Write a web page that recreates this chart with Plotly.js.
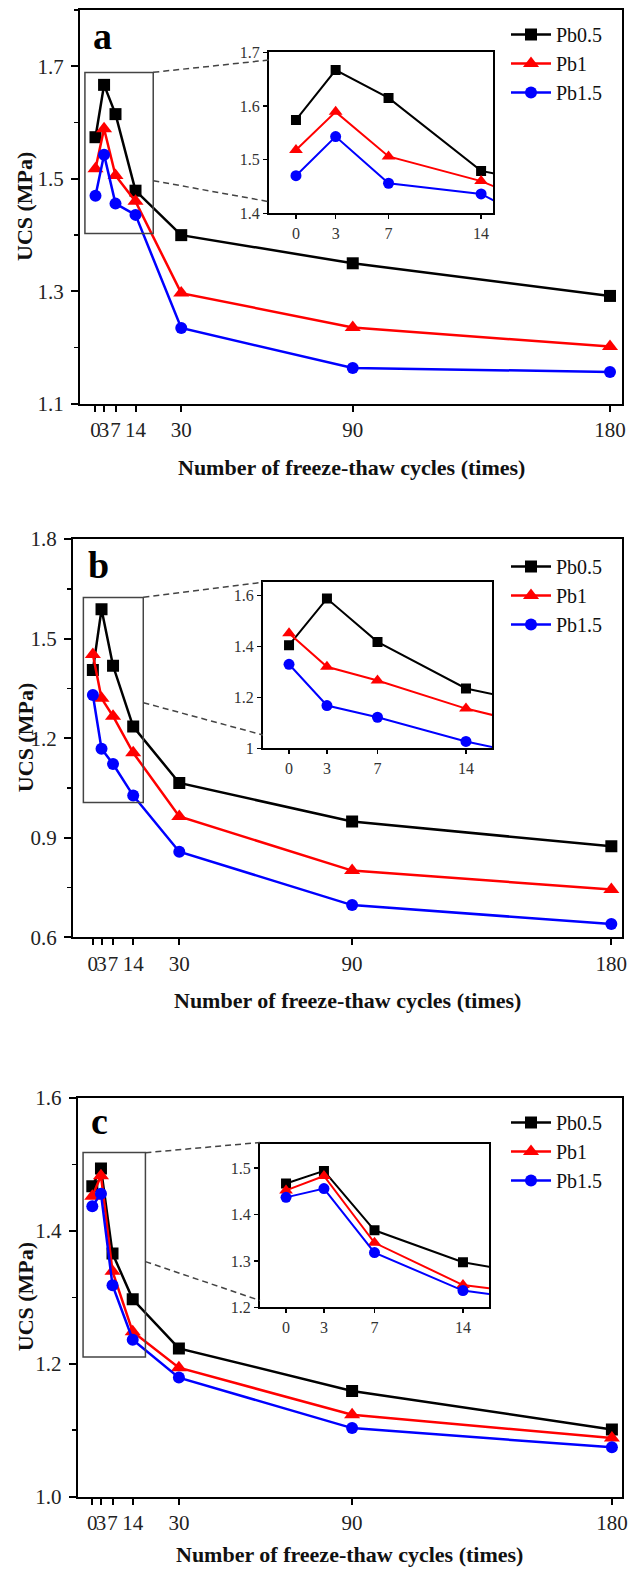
<!DOCTYPE html>
<html><head><meta charset="utf-8">
<script src="https://cdn.plot.ly/plotly-3.0.1.min.js"></script>
<style>html,body{margin:0;padding:0;background:#fff}</style>
</head><body><div id="chart" style="width:629px;height:1570px"></div>
<script>
// ---- data ----
const cycles = [0, 3, 7, 14, 30, 90, 180];
const cycleLabels = ['0', '3', '7', '14', '30', '90', '180'];
const seriesNames = ['Pb0.5', 'Pb1', 'Pb1.5'];
const panelLabels = ['a', 'b', 'c'];

const ucsA_Pb05 = [1.574, 1.667, 1.615, 1.479, 1.400, 1.350, 1.292];
const ucsA_Pb1  = [1.518, 1.589, 1.506, 1.460, 1.297, 1.236, 1.202];
const ucsA_Pb15 = [1.470, 1.543, 1.456, 1.436, 1.235, 1.164, 1.157];

const ucsB_Pb05 = [1.405, 1.588, 1.418, 1.235, 1.065, 0.949, 0.874];
const ucsB_Pb1  = [1.452, 1.320, 1.266, 1.156, 0.964, 0.801, 0.744];
const ucsB_Pb15 = [1.330, 1.168, 1.122, 1.027, 0.858, 0.697, 0.640];

const ucsC_Pb05 = [1.467, 1.494, 1.366, 1.297, 1.223, 1.159, 1.101];
const ucsC_Pb1  = [1.452, 1.483, 1.339, 1.248, 1.194, 1.123, 1.088];
const ucsC_Pb15 = [1.437, 1.456, 1.318, 1.236, 1.179, 1.103, 1.074];

const insetTicksA = [1.4, 1.5, 1.6, 1.7];
const insetTicksB = [1.0, 1.2, 1.4, 1.6];
const insetTicksC = [1.2, 1.3, 1.4, 1.5];
const insetXTicks = [0, 3, 7, 14];

// ---- styling / layout ----
const W = 629, H = 1570;
const px = x => x / W, py = y => 1 - y / H;
const colors = ['#000000', '#ff0000', '#0000ff'];
const symbols = ['square', 'triangle-up', 'circle'];
const mainSizes = [12, 14, 12];
const insetSizes = [10, 12, 11];
const serif = 'Liberation Serif';

const panels = [
  { data: [ucsA_Pb05, ucsA_Pb1, ucsA_Pb15],
    main: { x: [80, 622], y: [10, 404], xr: [-5.42, 184.2], yr: [1.1, 1.8], tick0: 1.1, dtick: 0.2, minor: 0.1, fmt: '.1f' },
    inset: { x: [269, 493], y: [52.3, 213.3], xr: [-2.04, 14.9], yr: [1.4, 1.7], ticks: insetTicksA, labels: ['1.4','1.5','1.6','1.7'] },
    rect: [-3.7, 20.2, 1.403, 1.689],
    dash: [[153.3, 72.3, 269, 60], [153.3, 180.7, 269, 201.7]],
    label: [102, 59], legendTop: 15, titleY: 467 },
  { data: [ucsB_Pb05, ucsB_Pb1, ucsB_Pb15],
    main: { x: [73, 622], y: [539, 937.3], xr: [-6.9, 183.7], yr: [0.6, 1.8], tick0: 0.6, dtick: 0.3, minor: 0.15, fmt: '.1f' },
    inset: { x: [263, 492], y: [582.3, 748.3], xr: [-2.06, 16.06], yr: [1.0, 1.652], ticks: insetTicksB, labels: ['1','1.2','1.4','1.6'] },
    rect: [-3.3, 17.5, 1.006, 1.624],
    dash: [[143.4, 597.3, 263, 582.3], [143.4, 702.7, 263, 735]],
    label: [98, 588], legendTop: 547, titleY: 1000 },
  { data: [ucsC_Pb05, ucsC_Pb1, ucsC_Pb15],
    main: { x: [77.7, 622], y: [1098, 1496.5], xr: [-5.06, 183.5], yr: [1.0, 1.6], tick0: 1.0, dtick: 0.2, minor: 0.1, fmt: '.1f' },
    inset: { x: [260, 489], y: [1144, 1307.3], xr: [-2.06, 16.06], yr: [1.2, 1.552], ticks: insetTicksC, labels: ['1.2','1.3','1.4','1.5'] },
    rect: [-3.2, 18.4, 1.21, 1.518],
    dash: [[145.4, 1152.7, 260, 1142.5], [145.4, 1261.6, 260, 1300.5]],
    label: [99, 1144], legendTop: 1103, titleY: 1554 }
];

const traces = [];
const layout = {
  width: W, height: H,
  margin: { l: 0, r: 0, t: 0, b: 0 },
  paper_bgcolor: '#fff', plot_bgcolor: '#fff',
  showlegend: true,
  font: { family: serif, color: '#222' },
  shapes: [], annotations: []
};

panels.forEach((p, i) => {
  const mi = 2 * i + 1, ii = 2 * i + 2;
  const mx = mi === 1 ? 'x' : 'x' + mi, my = mi === 1 ? 'y' : 'y' + mi;
  const ix = 'x' + ii, iy = 'y' + ii;
  const legName = i === 0 ? 'legend' : 'legend' + (i + 1);

  p.data.forEach((vals, s) => {
    traces.push({
      x: cycles, y: vals, xaxis: mx, yaxis: my, name: seriesNames[s],
      type: 'scatter', mode: 'lines+markers', legend: legName,
      line: { color: colors[s], width: 2.5 },
      marker: { symbol: symbols[s], size: mainSizes[s], color: colors[s] }
    });
  });
  p.data.forEach((vals, s) => {
    traces.push({
      x: cycles, y: vals, xaxis: ix, yaxis: iy, name: seriesNames[s],
      type: 'scatter', mode: 'lines+markers', showlegend: false,
      line: { color: colors[s], width: 2 },
      marker: { symbol: symbols[s], size: insetSizes[s], color: colors[s] }
    });
  });

  const m = p.main;
  layout['xaxis' + (mi === 1 ? '' : mi)] = {
    domain: [px(m.x[0]), px(m.x[1])], range: m.xr, anchor: my,
    showline: true, mirror: true, linewidth: 2, linecolor: '#000',
    ticks: 'outside', ticklen: 6, tickwidth: 2, tickcolor: '#000',
    tickmode: 'array', tickvals: cycles, ticktext: cycleLabels, tickangle: 0,
    showgrid: false, zeroline: false,
    tickfont: { family: serif, size: 21, color: '#222' }
  };
  layout['yaxis' + (mi === 1 ? '' : mi)] = {
    domain: [py(m.y[1]), py(m.y[0])], range: m.yr, anchor: mx,
    showline: true, mirror: true, linewidth: 2, linecolor: '#000',
    ticks: 'outside', ticklen: 7, tickwidth: 2, tickcolor: '#000',
    tick0: m.tick0, dtick: m.dtick, tickformat: m.fmt,
    minor: { ticks: 'outside', ticklen: 4, tickwidth: 1.5, tickcolor: '#000', tick0: m.tick0, dtick: m.minor, showgrid: false },
    showgrid: false, zeroline: false, ticklabelstandoff: 3,
    tickfont: { family: serif, size: 21, color: '#222' }
  };

  const n = p.inset;
  layout['xaxis' + ii] = {
    domain: [px(n.x[0]), px(n.x[1])], range: n.xr, anchor: iy,
    showline: true, mirror: true, linewidth: 2, linecolor: '#000',
    ticks: 'outside', ticklen: 4, tickwidth: 1.5, tickcolor: '#000',
    tickmode: 'array', tickvals: insetXTicks, ticktext: insetXTicks.map(String), tickangle: 0,
    showgrid: false, zeroline: false,
    tickfont: { family: serif, size: 16, color: '#333' }
  };
  layout['yaxis' + ii] = {
    domain: [py(n.y[1]), py(n.y[0])], range: n.yr, anchor: ix,
    showline: true, mirror: true, linewidth: 2, linecolor: '#000',
    ticks: 'outside', ticklen: 4, tickwidth: 1.5, tickcolor: '#000',
    tickmode: 'array', tickvals: n.ticks, ticktext: n.labels,
    showgrid: false, zeroline: false,
    tickfont: { family: serif, size: 16, color: '#333' }
  };

  // zoom rectangle on main plot
  layout.shapes.push({ type: 'rect', xref: mx, yref: my, x0: p.rect[0], x1: p.rect[1], y0: p.rect[2], y1: p.rect[3],
    line: { color: '#444', width: 1.5 }, fillcolor: 'rgba(0,0,0,0)' });
  p.dash.forEach(d => layout.shapes.push({ type: 'line', xref: 'paper', yref: 'paper',
    x0: px(d[0]), y0: py(d[1]), x1: px(d[2]), y1: py(d[3]),
    line: { color: '#444', width: 1.5, dash: '6px,4px' } }));

  // legend
  layout[legName] = {
    x: px(506), y: py(p.legendTop), xanchor: 'left', yanchor: 'top',
    bgcolor: 'rgba(0,0,0,0)', borderwidth: 0, itemwidth: 40,
    font: { family: serif, size: 20, color: '#111' }, tracegroupgap: 0
  };

  // panel letter
  layout.annotations.push({ text: '<b>' + panelLabels[i] + '</b>', xref: 'paper', yref: 'paper',
    x: px(p.label[0]), y: py(p.label[1]), xanchor: 'center', yanchor: 'bottom', showarrow: false,
    font: { family: serif, size: 38, color: '#000' } });
  // axis titles
  const cy = (m.y[0] + m.y[1]) / 2, cx = (m.x[0] + m.x[1]) / 2;
  layout.annotations.push({ text: '<b>UCS (MPa)</b>', xref: 'paper', yref: 'paper',
    x: px(25), y: py(cy), xanchor: 'center', yanchor: 'middle', textangle: -90, showarrow: false,
    font: { family: serif, size: 22, color: '#111' } });
  layout.annotations.push({ text: '<b>Number of freeze-thaw cycles (times)</b>', xref: 'paper', yref: 'paper',
    x: px(cx), y: py(p.titleY), xanchor: 'center', yanchor: 'middle', showarrow: false,
    font: { family: serif, size: 22, color: '#111' } });
});

Plotly.newPlot('chart', traces, layout, { displayModeBar: false, staticPlot: true });
</script>
</body></html>
